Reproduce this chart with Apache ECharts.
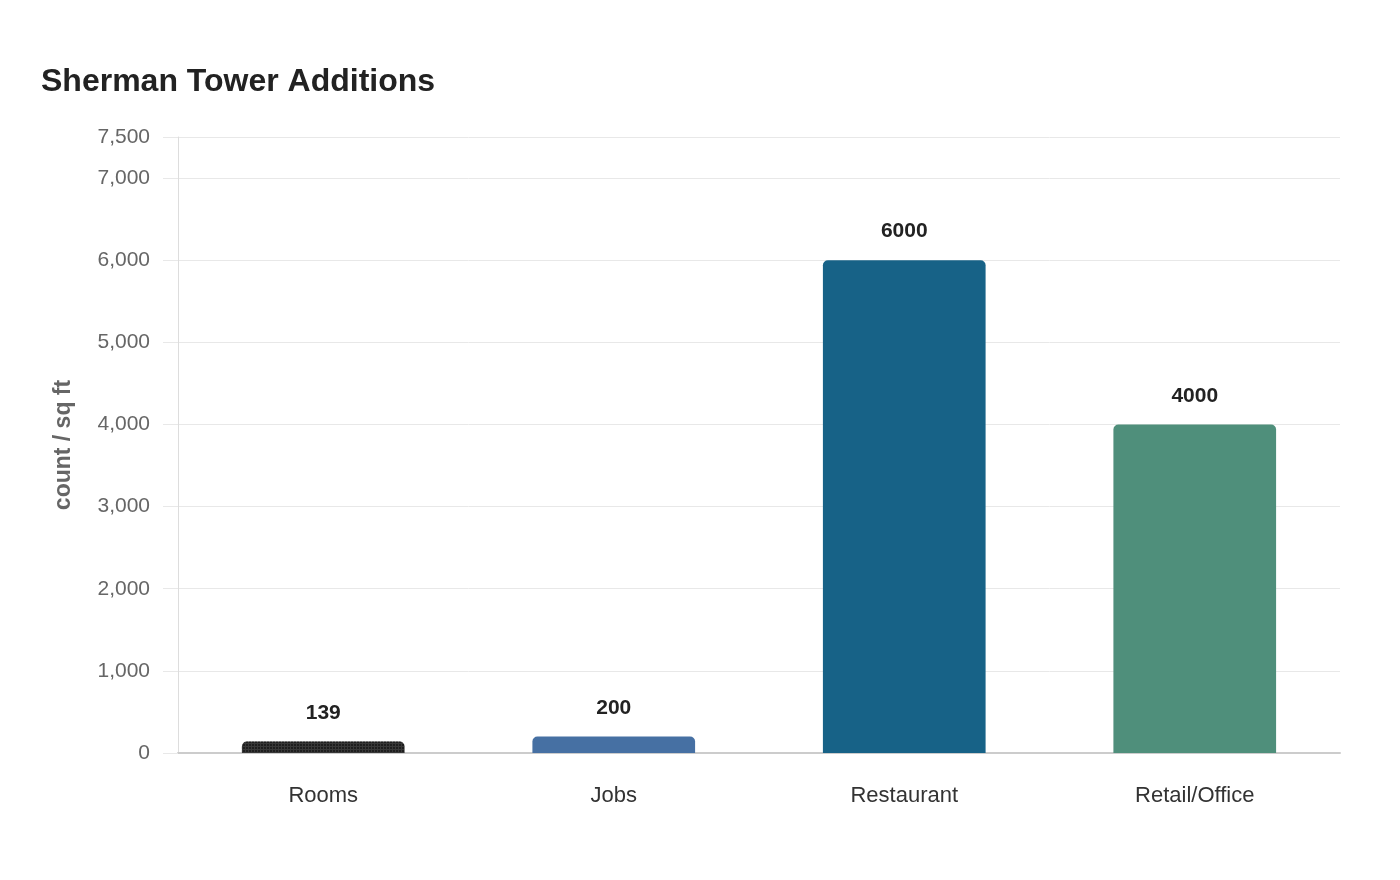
<!DOCTYPE html>
<html>
<head>
<meta charset="utf-8">
<script src="https://cdn.jsdelivr.net/npm/echarts@6/dist/echarts.min.js"></script>
<style>
  html, body { margin: 0; padding: 0; background: #fff; }
  #main { width: 1400px; height: 880px; }
</style>
</head>
<body>
<div id="main"></div>
<script>
// data
var categories = ['Rooms', 'Jobs', 'Restaurant', 'Retail/Office'];
var values = [139, 200, 6000, 4000];
var barColors = ['#383838', '#4670a3', '#176287', '#4f8f7b'];

var chart = echarts.init(document.getElementById('main'));

var option = {
    backgroundColor: '#fff',
    title: {
        text: 'Sherman Tower Additions',
        left: 36,
        top: 61,
        textStyle: {
            fontFamily: 'Liberation Sans',
            fontSize: 32,
            fontWeight: 'bold',
            color: '#222'
        }
    },
    grid: {
        left: 178,
        right: 60,
        top: 137,
        bottom: 127
    },
    xAxis: {
        type: 'category',
        data: categories,
        axisTick: { show: false },
        axisLine: { lineStyle: { color: '#ccc', width: 2 } },
        axisLabel: {
            fontFamily: 'Liberation Sans',
            fontSize: 22,
            color: '#333',
            margin: 32
        }
    },
    yAxis: {
        type: 'value',
        min: 0,
        max: 7500,
        interval: 1000,
        name: 'count / sq ft',
        nameLocation: 'middle',
        nameGap: 103,
        nameTextStyle: {
            fontFamily: 'Liberation Sans',
            fontSize: 23,
            fontWeight: 'bold',
            color: '#666'
        },
        axisLine: { show: true, lineStyle: { color: '#ddd' } },
        axisTick: { show: true, length: 15, lineStyle: { color: '#e8e8e8' } },
        splitLine: { lineStyle: { color: '#e8e8e8' } },
        axisLabel: {
            fontFamily: 'Liberation Sans',
            fontSize: 21,
            color: '#666',
            margin: 28,
            formatter: function (v) { return v.toLocaleString('en-US'); }
        }
    },
    series: [{
        type: 'bar',
        barWidth: '56%',
        data: values.map(function (v, i) {
            var item = {
                value: v,
                itemStyle: { color: barColors[i], borderRadius: [5, 5, 0, 0] }
            };
            if (i === 0) {
                item.itemStyle.decal = {
                    symbol: 'rect',
                    symbolSize: 1,
                    color: 'rgba(0,0,0,0.45)',
                    dashArrayX: [2, 1],
                    dashArrayY: [2, 1],
                    rotation: 0
                };
            }
            return item;
        }),
        label: {
            show: true,
            position: 'top',
            distance: 18,
            fontFamily: 'Liberation Sans',
            fontSize: 21,
            fontWeight: 'bold',
            color: '#222'
        }
    }]
};

chart.setOption(option);
</script>
</body>
</html>
